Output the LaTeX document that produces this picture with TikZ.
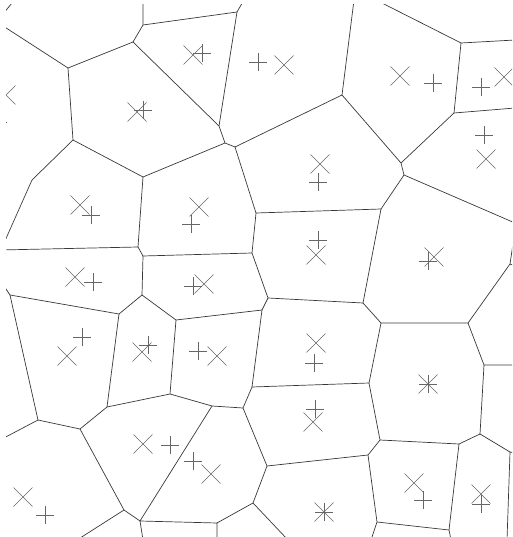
\documentclass[tikz,border=0pt]{standalone}
\usetikzlibrary{calc}
\begin{document}
\begin{tikzpicture}[x=1pt, y=-1pt]
  % Styles
  \tikzstyle{edge} = [draw, line width=0.7pt, color=black!78]
  \tikzstyle{sitemark} = [draw, line width=0.6pt, color=black!60]

  \useasboundingbox (0,0) rectangle (512,537);
  \clip (6,5) rectangle (512,537);

  % Voronoi vertices
  \coordinate (A) at (68,68);
  \coordinate (B) at (133,42);
  \coordinate (C) at (73,140);
  \coordinate (C2) at (32,180);
  \coordinate (D) at (143,25);
  \coordinate (E) at (237,12);
  \coordinate (F) at (219,126);
  \coordinate (G) at (225,143);
  \coordinate (H) at (235,147);
  \coordinate (I) at (143,177);
  \coordinate (J) at (342,95);
  \coordinate (K) at (401,163);
  \coordinate (K2) at (404,175);
  \coordinate (L) at (454,113);
  \coordinate (M) at (461,43);
  \coordinate (U) at (381,209);
  \coordinate (V) at (256,213);
  \coordinate (N) at (138,247);
  \coordinate (O) at (143,256);
  \coordinate (P) at (252,253);
  \coordinate (Q) at (142,295);
  \coordinate (R) at (119,314);
  \coordinate (S) at (10,295);
  \coordinate (T) at (176,320);
  \coordinate (X) at (268,298);
  \coordinate (Y) at (262,310);
  \coordinate (W) at (363,303);
  \coordinate (Z) at (381,323);
  \coordinate (AA) at (468,323);
  \coordinate (RB) at (510,264);
  \coordinate (AT) at (484,365);
  \coordinate (AB) at (38,420);
  \coordinate (AC) at (80,429);
  \coordinate (AD) at (107,407);
  \coordinate (AE) at (170,394);
  \coordinate (AF) at (212,406);
  \coordinate (AG) at (243,408);
  \coordinate (AV) at (252,387);
  \coordinate (AH) at (140,521);
  \coordinate (AI) at (124,510);
  \coordinate (AK) at (217,523);
  \coordinate (AU) at (253,503);
  \coordinate (AO) at (267,466);
  \coordinate (AL) at (369,383);
  \coordinate (AM) at (380,440);
  \coordinate (AN) at (368,455);
  \coordinate (AP) at (377,522);
  \coordinate (AQ) at (449,530);
  \coordinate (AR) at (459,444);
  \coordinate (AS) at (480,434);
  \coordinate (RS) at (510,452);

  % Border ends
  \coordinate (bA) at (0,24);
  \coordinate (bK) at (3,14);
  \coordinate (tK) at (12,3);
  \coordinate (tD) at (143,0);
  \coordinate (tE) at (244,0);
  \coordinate (tJ) at (354,0);
  \coordinate (tM) at (376,0);
  \coordinate (rM) at (515,40);
  \coordinate (rL) at (515,108);
  \coordinate (rK) at (515,223);
  \coordinate (rB1) at (515,230);
  \coordinate (rB2) at (515,266);
  \coordinate (rT) at (515,365);
  \coordinate (rS) at (515,453);
  \coordinate (lC) at (0,252);
  \coordinate (lN) at (0,250);
  \coordinate (lS) at (0,280);
  \coordinate (lAB) at (0,440);
  \coordinate (dAI) at (77,540);
  \coordinate (dAH) at (143,540);
  \coordinate (dAK) at (217,540);
  \coordinate (dAU) at (288,540);
  \coordinate (dAP) at (371,540);
  \coordinate (dAQ) at (451,540);
  \coordinate (dRS) at (507,540);

  % Edges
  \draw[edge] (bK) -- (tK);
  \draw[edge] (bA) -- (A);
  \draw[edge] (A) -- (B);
  \draw[edge] (A) -- (C);
  \draw[edge] (B) -- (D) -- (tD);
  \draw[edge] (D) -- (E) -- (tE);
  \draw[edge] (E) -- (F);
  \draw[edge] (B) -- (F) -- (G) -- (H);
  \draw[edge] (G) -- (I);
  \draw[edge] (C) -- (I);
  \draw[edge] (C) -- (C2) -- (lC);
  \draw[edge] (H) -- (J) -- (tJ);
  \draw[edge] (H) -- (V);
  \draw[edge] (J) -- (K) -- (K2);
  \draw[edge] (L) -- (K);
  \draw[edge] (L) -- (M) -- (tM);
  \draw[edge] (M) -- (rM);
  \draw[edge] (L) -- (rL);
  \draw[edge] (K2) -- (rK);
  \draw[edge] (K2) -- (U) -- (V);
  \draw[edge] (U) -- (W);
  \draw[edge] (I) -- (N) -- (lN);
  \draw[edge] (N) -- (O) -- (P) -- (V);
  \draw[edge] (O) -- (Q) -- (R) -- (S) -- (lS);
  \draw[edge] (Q) -- (T);
  \draw[edge] (S) -- (AB);
  \draw[edge] (R) -- (AD);
  \draw[edge] (T) -- (AE);
  \draw[edge] (T) -- (Y);
  \draw[edge] (P) -- (X) -- (Y);
  \draw[edge] (X) -- (W) -- (Z) -- (AA) -- (RB) -- (rB1);
  \draw[edge] (RB) -- (rB2);
  \draw[edge] (AA) -- (AT) -- (rT);
  \draw[edge] (Y) -- (AV) -- (AG);
  \draw[edge] (AV) -- (AL);
  \draw[edge] (Z) -- (AL) -- (AM) -- (AN);
  \draw[edge] (AM) -- (AR);
  \draw[edge] (AG) -- (AO) -- (AN);
  \draw[edge] (AO) -- (AU) -- (AK);
  \draw[edge] (AU) -- (dAU);
  \draw[edge] (AN) -- (AP) -- (dAP);
  \draw[edge] (AP) -- (AQ) -- (dAQ);
  \draw[edge] (AQ) -- (AR) -- (AS) -- (AT);
  \draw[edge] (AS) -- (RS) -- (rS);
  \draw[edge] (RS) -- (dRS);
  \draw[edge] (AB) -- (lAB);
  \draw[edge] (AB) -- (AC) -- (AD) -- (AE) -- (AF) -- (AG);
  \draw[edge] (AF) -- (AH);
  \draw[edge] (AC) -- (AI) -- (AH);
  \draw[edge] (AI) -- (dAI);
  \draw[edge] (AH) -- (AK) -- (dAK);
  \draw[edge] (AH) -- (dAH);

  % Sites (x)
  \foreach \x/\y in {6/95, 137/112, 193/55, 284/65, 400/76, 504/77, 486/159,
                     320/164, 80/205, 199/207, 316/255, 434/257, 75/277, 204/284,
                     67/356, 142/352, 217/356, 316/343, 428/384, 313/422,
                     143/444, 211/474, 23/497, 414/483, 481/494, 324/512}
    \draw[sitemark] (\x,\y) +(-9.5,-9.5) -- +(9.5,9.5) +(-9.5,9.5) -- +(9.5,-9.5);

  % Centroids (+)
  \foreach \x/\y in {-2/122, 143/110, 202/53, 258/62, 433/83, 481/87, 484/135,
                     318/182, 91/215, 191/224, 318/240, 428/261, 93/282, 193/286,
                     82/337, 148/345, 198/351, 314/363, 428/384, 315/409,
                     170/445, 193/461, 45/515, 423/500, 481/504, 324/512}
    \draw[sitemark] (\x,\y) +(-9,0) -- +(9,0) +(0,-9) -- +(0,9);
\end{tikzpicture}
\end{document}
